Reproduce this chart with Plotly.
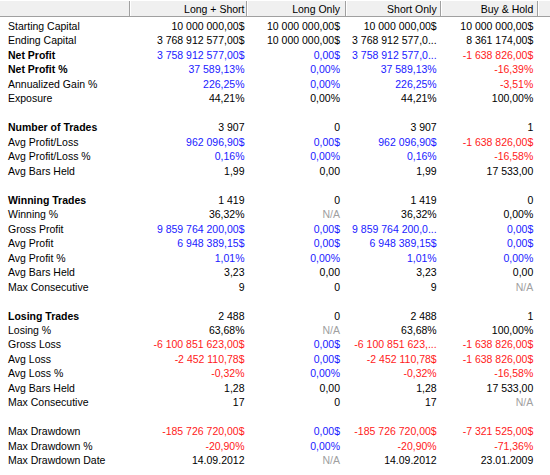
import plotly.graph_objects as go

# ---------------- data ----------------
columns = ["Long + Short", "Long Only", "Short Only", "Buy & Hold"]

labels = [
    "Starting Capital", "Ending Capital", "Net Profit", "Net Profit %", "Annualized Gain %", "Exposure", "",
    "Number of Trades", "Avg Profit/Loss", "Avg Profit/Loss %", "Avg Bars Held", "",
    "Winning Trades", "Winning %", "Gross Profit", "Avg Profit", "Avg Profit %", "Avg Bars Held", "Max Consecutive", "",
    "Losing Trades", "Losing %", "Gross Loss", "Avg Loss", "Avg Loss %", "Avg Bars Held", "Max Consecutive", "",
    "Max Drawdown", "Max Drawdown %", "Max Drawdown Date",
]

long_short = [
    "10 000 000,00$", "3 768 912 577,00$", "3 758 912 577,00$", "37 589,13%", "226,25%", "44,21%", "",
    "3 907", "962 096,90$", "0,16%", "1,99", "",
    "1 419", "36,32%", "9 859 764 200,00$", "6 948 389,15$", "1,01%", "3,23", "9", "",
    "2 488", "63,68%", "-6 100 851 623,00$", "-2 452 110,78$", "-0,32%", "1,28", "17", "",
    "-185 726 720,00$", "-20,90%", "14.09.2012",
]

long_only = [
    "10 000 000,00$", "10 000 000,00$", "0,00$", "0,00%", "0,00%", "0,00%", "",
    "0", "0,00$", "0,00%", "0,00", "",
    "0", "N/A", "0,00$", "0,00$", "0,00%", "0,00", "0", "",
    "0", "N/A", "0,00$", "0,00$", "0,00%", "0,00", "0", "",
    "0,00$", "0,00%", "N/A",
]

short_only = [
    "10 000 000,00$", "3 768 912 577,0...", "3 758 912 577,0...", "37 589,13%", "226,25%", "44,21%", "",
    "3 907", "962 096,90$", "0,16%", "1,99", "",
    "1 419", "36,32%", "9 859 764 200,0...", "6 948 389,15$", "1,01%", "3,23", "9", "",
    "2 488", "63,68%", "-6 100 851 623,...", "-2 452 110,78$", "-0,32%", "1,28", "17", "",
    "-185 726 720,00$", "-20,90%", "14.09.2012",
]

buy_hold = [
    "10 000 000,00$", "8 361 174,00$", "-1 638 826,00$", "-16,39%", "-3,51%", "100,00%", "",
    "1", "-1 638 826,00$", "-16,58%", "17 533,00", "",
    "0", "0,00%", "0,00$", "0,00$", "0,00%", "0,00", "N/A", "",
    "1", "100,00%", "-1 638 826,00$", "-1 638 826,00$", "-16,58%", "17 533,00", "N/A", "",
    "-7 321 525,00$", "-71,36%", "23.01.2009",
]

bold_rows = {"Net Profit", "Net Profit %", "Number of Trades", "Winning Trades", "Losing Trades"}
signed_rows = {
    "Net Profit", "Net Profit %", "Annualized Gain %", "Avg Profit/Loss", "Avg Profit/Loss %",
    "Gross Profit", "Avg Profit", "Avg Profit %", "Gross Loss", "Avg Loss", "Avg Loss %",
    "Max Drawdown", "Max Drawdown %",
}

# ---------------- styling / layout ----------------
W, H = 550, 475
FONT = "Liberation Sans, Arial, sans-serif"
FS = 10.5
BLUE = "#1a1aff"
RED = "#ff1a1a"
GRAY = "#a0a0a0"
BLACK = "#000000"

ROW0 = 27.3          # px centre of first row
ROW_H = 14.48        # px row pitch
HEADER_Y = 10.0      # px centre of header text
HEADER_H = 17
LABEL_X = 8
COL_RIGHT = [244.5, 340.0, 436.7, 533.3]
SEPARATORS = [129.5, 246.5, 345.5, 440.5, 537.5]


def color_for(label, val):
    if val == "N/A":
        return GRAY
    if label in signed_rows:
        return RED if val.startswith("-") else BLUE
    return BLACK


row_y = [ROW0 + i * ROW_H for i in range(len(labels))]

fig = go.Figure()

# row labels
fig.add_trace(go.Scatter(
    x=[LABEL_X] * len(labels), y=row_y, mode="text",
    text=[f"<b>{l}</b>" if l in bold_rows else l for l in labels],
    textposition="middle right",
    textfont=dict(family=FONT, size=FS, color=BLACK),
    hoverinfo="skip", showlegend=False,
))

# value columns
for cx, col in zip(COL_RIGHT, [long_short, long_only, short_only, buy_hold]):
    fig.add_trace(go.Scatter(
        x=[cx] * len(col), y=row_y, mode="text",
        text=col,
        textposition="middle left",
        textfont=dict(family=FONT, size=FS, color=[color_for(l, v) for l, v in zip(labels, col)]),
        hoverinfo="skip", showlegend=False,
    ))

# header titles
fig.add_trace(go.Scatter(
    x=COL_RIGHT, y=[HEADER_Y] * len(columns), mode="text",
    text=columns, textposition="middle left",
    textfont=dict(family=FONT, size=FS, color=BLACK),
    hoverinfo="skip", showlegend=False,
))

shapes = [
    dict(type="rect", xref="x", yref="y", x0=0, x1=W, y0=0, y1=HEADER_H,
         fillcolor="#f0f0f0", line=dict(width=0), layer="below"),
    dict(type="line", xref="x", yref="y", x0=0, x1=W, y0=0.5, y1=0.5,
         line=dict(color="#ffffff", width=1), layer="below"),
    dict(type="line", xref="x", yref="y", x0=0, x1=W, y0=HEADER_H - 0.5, y1=HEADER_H - 0.5,
         line=dict(color="#a0a0a0", width=1), layer="below"),
]
for sx in SEPARATORS:
    shapes.append(dict(type="line", xref="x", yref="y", x0=sx, x1=sx, y0=1, y1=HEADER_H - 1,
                       line=dict(color="#a0a0a0", width=1), layer="below"))
    shapes.append(dict(type="line", xref="x", yref="y", x0=sx + 1, x1=sx + 1, y0=1, y1=HEADER_H - 1,
                       line=dict(color="#ffffff", width=1), layer="below"))

fig.update_layout(
    width=W, height=H,
    margin=dict(l=0, r=0, t=0, b=0),
    paper_bgcolor="white", plot_bgcolor="white",
    xaxis=dict(range=[0, W], visible=False, fixedrange=True),
    yaxis=dict(range=[H, 0], visible=False, fixedrange=True),
    shapes=shapes,
)

fig.write_html(
    "out.html",
    config={"displayModeBar": False},
    post_script="document.body.style.margin='0px';document.body.style.overflow='hidden';",
)
